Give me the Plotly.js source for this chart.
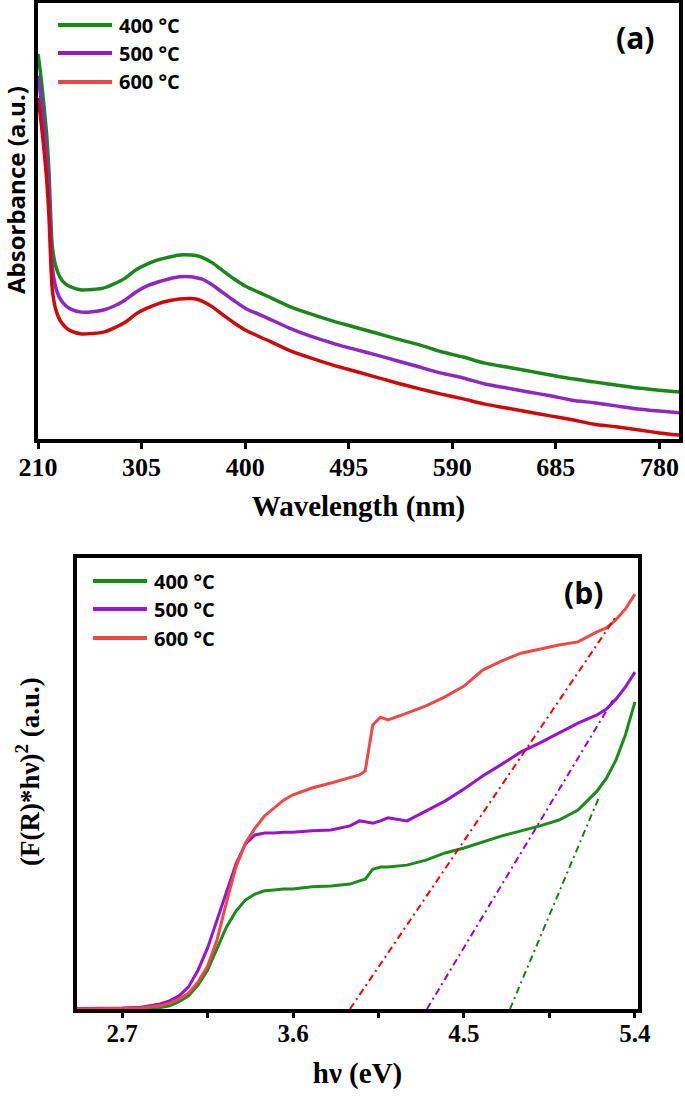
<!DOCTYPE html>
<html><head><meta charset="utf-8">
<script src="https://cdn.plot.ly/plotly-3.0.1.min.js"></script>
<style>html,body{margin:0;padding:0;background:#fff;} #chart{width:685px;height:1096px;}</style>
</head><body><div id="chart"></div>
<script>
// ---------- DATA ----------
const seriesNames = ['400 °C', '500 °C', '600 °C'];

// Panel (a): UV-Vis absorbance
const wavelength = [210,212,214,216,218,220,223,226,230,235,240,250,260,270,280,290,300,310,320,330,340,350,355,360,370,380,390,400,420,440,460,480,500,520,540,560,580,600,620,640,660,680,700,720,740,760,780,798];
const abs400 = [0.883,0.846,0.800,0.750,0.697,0.617,0.445,0.399,0.372,0.356,0.349,0.342,0.343,0.346,0.356,0.369,0.388,0.401,0.411,0.417,0.422,0.422,0.421,0.417,0.404,0.385,0.367,0.351,0.328,0.305,0.287,0.271,0.257,0.243,0.229,0.216,0.200,0.188,0.174,0.165,0.156,0.147,0.138,0.131,0.124,0.117,0.112,0.108];
const abs500 = [0.833,0.796,0.750,0.702,0.647,0.567,0.399,0.351,0.323,0.307,0.298,0.291,0.292,0.296,0.305,0.319,0.337,0.351,0.360,0.367,0.372,0.372,0.370,0.367,0.353,0.335,0.317,0.300,0.278,0.255,0.236,0.220,0.206,0.193,0.179,0.165,0.151,0.140,0.126,0.117,0.108,0.099,0.089,0.083,0.076,0.069,0.064,0.060];
const abs600 = [0.782,0.745,0.700,0.651,0.594,0.514,0.346,0.300,0.273,0.257,0.248,0.241,0.242,0.245,0.255,0.268,0.287,0.300,0.310,0.317,0.321,0.322,0.321,0.317,0.303,0.284,0.266,0.250,0.227,0.204,0.186,0.170,0.156,0.142,0.128,0.115,0.103,0.092,0.080,0.071,0.062,0.053,0.044,0.034,0.028,0.021,0.014,0.009];
const xTicksA = [210,305,400,495,590,685,780];

// Panel (b): Tauc plot
const energy = [2.46,2.6,2.7,2.8,2.85,2.9,2.95,3.0,3.05,3.1,3.15,3.2,3.25,3.3,3.35,3.4,3.45,3.5,3.55,3.6,3.7,3.8,3.9,3.95,3.98,4.02,4.06,4.1,4.2,4.3,4.4,4.5,4.6,4.7,4.8,4.9,5.0,5.1,5.2,5.25,5.3,5.35,5.4];
const tauc400 = [0.000,0.000,0.000,0.001,0.002,0.003,0.007,0.016,0.029,0.053,0.086,0.135,0.182,0.217,0.242,0.255,0.262,0.264,0.266,0.266,0.271,0.273,0.277,0.284,0.288,0.310,0.315,0.315,0.319,0.330,0.346,0.357,0.370,0.384,0.395,0.406,0.419,0.441,0.483,0.512,0.552,0.608,0.681];
const tauc500 = [0.001,0.001,0.002,0.004,0.007,0.011,0.018,0.029,0.049,0.086,0.135,0.197,0.264,0.322,0.366,0.386,0.390,0.390,0.392,0.392,0.395,0.397,0.406,0.417,0.415,0.412,0.417,0.424,0.417,0.439,0.461,0.488,0.517,0.543,0.570,0.590,0.612,0.634,0.652,0.665,0.687,0.714,0.747];
const tauc600 = [0.000,0.000,0.001,0.002,0.004,0.007,0.013,0.022,0.035,0.060,0.095,0.153,0.237,0.315,0.368,0.401,0.428,0.446,0.463,0.475,0.490,0.501,0.512,0.519,0.528,0.630,0.647,0.641,0.656,0.672,0.692,0.716,0.752,0.772,0.789,0.798,0.807,0.814,0.836,0.845,0.863,0.887,0.920];
// linear extrapolation (tangent) lines
const fitX400 = [4.742, 5.216], fitY400 = [0, 0.475];
const fitX500 = [4.305, 5.284], fitY500 = [0, 0.685];
const fitX600 = [3.900, 5.295], fitY600 = [0, 0.867];
const xTicksB = [2.7, 3.6, 4.5, 5.4];
const xMinorTicksB = [3.15, 4.05, 4.95];

// ---------- STYLE ----------
const W = 685, H = 1096;
const px = x => x / W, py = y => 1 - y / H;
const colA = ['rgb(25,135,25)', 'rgb(140,40,195)', 'rgb(205,10,10)'];
const colB = ['rgb(25,140,25)', 'rgb(150,20,205)', 'rgb(240,72,72)'];
const colFit = ['rgb(20,130,20)', 'rgb(150,0,210)', 'rgb(240,0,0)'];
const legCol = ['rgb(20,140,20)', 'rgb(150,25,205)', 'rgb(235,70,70)'];
const serif = 'Liberation Serif, Times New Roman, serif';
const sans = 'Open Sans, Noto Sans, sans-serif';

const absData = [abs400, abs500, abs600];
const taucData = [tauc400, tauc500, tauc600];
const fits = [[fitX400, fitY400], [fitX500, fitY500], [fitX600, fitY600]];

const traces = [];
absData.forEach((ys, i) => traces.push({
  x: wavelength, y: ys, type: 'scatter', mode: 'lines', name: seriesNames[i],
  line: {color: colA[i], width: 3.5, shape: 'spline', smoothing: 0.6}, xaxis: 'x', yaxis: 'y', showlegend: false
}));
taucData.forEach((ys, i) => traces.push({
  x: energy, y: ys, type: 'scatter', mode: 'lines', name: seriesNames[i],
  line: {color: colB[i], width: 3}, xaxis: 'x2', yaxis: 'y2', showlegend: false
}));
fits.forEach((f, i) => traces.push({
  x: f[0], y: f[1], type: 'scatter', mode: 'lines', name: seriesNames[i] + ' fit',
  line: {color: colFit[i], width: 2, dash: '7px,4px,2px,4px'}, xaxis: 'x2', yaxis: 'y2', showlegend: false
}));

const shapes = [], annotations = [];
function legend(x0, x1, tx, ys) {
  ys.forEach((y, i) => {
    shapes.push({type: 'line', xref: 'paper', yref: 'paper', x0: px(x0), x1: px(x1), y0: py(y), y1: py(y),
      line: {color: legCol[i], width: 4}});
    annotations.push({xref: 'paper', yref: 'paper', x: px(tx), y: py(y), xanchor: 'left', yanchor: 'middle',
      text: seriesNames[i], showarrow: false, font: {family: sans, size: 20, weight: 'bold', color: '#000'}});
  });
}
legend(58, 112, 117, [25, 53, 82]);
legend(93, 147, 152, [581, 609, 638]);
annotations.push({xref: 'paper', yref: 'paper', x: px(635), y: py(38), xanchor: 'center', yanchor: 'middle',
  text: '(a)', showarrow: false, font: {family: sans, size: 30, weight: 'bold', color: '#000'}});
annotations.push({xref: 'paper', yref: 'paper', x: px(583), y: py(592), xanchor: 'center', yanchor: 'middle',
  text: '(b)', showarrow: false, font: {family: sans, size: 30, weight: 'bold', color: '#000'}});
// y-axis titles (placed like the reference, off-centre from the axis domain)
annotations.push({xref: 'paper', yref: 'paper', x: px(15), y: py(190), xanchor: 'center', yanchor: 'middle',
  textangle: -90, text: 'Absorbance (a.u.)', showarrow: false, font: {family: sans, size: 24, weight: 'bold', color: '#000'}});
annotations.push({xref: 'paper', yref: 'paper', x: px(28), y: py(772), xanchor: 'center', yanchor: 'middle',
  textangle: -90, text: '(F(R)*hν)<sup>2</sup> (a.u.)', showarrow: false, font: {family: serif, size: 27, weight: 'bold', color: '#000'}});

const frame = {showline: true, mirror: true, linewidth: 4, linecolor: '#000', showgrid: false, zeroline: false};
const layout = {
  width: W, height: H, margin: {l: 0, r: 0, t: 0, b: 0},
  paper_bgcolor: '#fff', plot_bgcolor: '#fff', showlegend: false,
  xaxis: Object.assign({}, frame, {
    domain: [px(38), px(679)], range: [210, 798], anchor: 'y',
    ticks: 'outside', ticklen: 6, tickwidth: 3, tickcolor: '#000', tickmode: 'array', tickvals: xTicksA,
    tickfont: {family: serif, size: 26, weight: 'bold', color: '#000'}, ticklabelstandoff: -4,
    title: {text: 'Wavelength (nm)', font: {family: serif, size: 29, weight: 'bold', color: '#000'}, standoff: 15}
  }),
  yaxis: Object.assign({}, frame, {
    domain: [py(439), py(3)], range: [0, 1], anchor: 'x', ticks: '', showticklabels: false
  }),
  xaxis2: Object.assign({}, frame, {
    domain: [px(77), px(638)], range: [2.463, 5.416], anchor: 'y2',
    ticks: 'outside', ticklen: 5, tickwidth: 3, tickcolor: '#000', tickmode: 'array', tickvals: xTicksB,
    minor: {tickmode: 'array', tickvals: xMinorTicksB, ticks: 'outside', ticklen: 5, tickwidth: 3, tickcolor: '#000', showgrid: false},
    tickfont: {family: serif, size: 25, weight: 'bold', color: '#000'}, ticklabelstandoff: -6,
    title: {text: 'hν (eV)', font: {family: serif, size: 29, weight: 'bold', color: '#000'}, standoff: 18}
  }),
  yaxis2: Object.assign({}, frame, {
    domain: [py(1009), py(558)], range: [0, 1], anchor: 'x2', ticks: '', showticklabels: false
  }),
  shapes: shapes, annotations: annotations
};
Plotly.newPlot('chart', traces, layout, {displayModeBar: false, staticPlot: true});
</script>
</body></html>
